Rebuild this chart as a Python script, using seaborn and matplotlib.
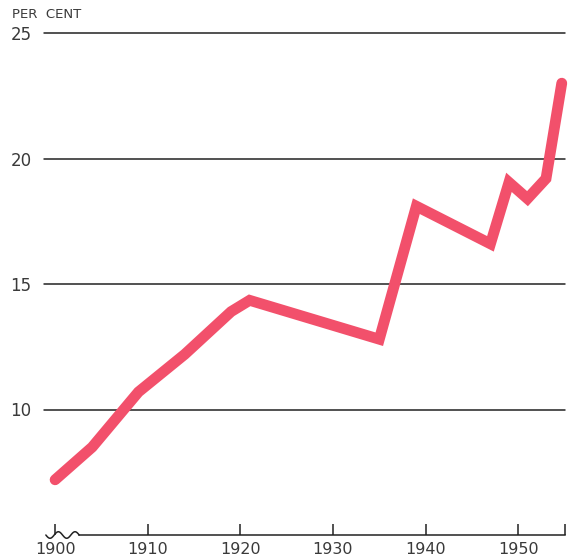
import seaborn as sns
import matplotlib.pyplot as plt
import numpy as np
import pandas as pd

years = [1900, 1904, 1909, 1914, 1919, 1921, 1935, 1939, 1947, 1949, 1951, 1953, 1954.7]
per_cent = [7.2, 8.5, 10.7, 12.2, 13.9, 14.35, 12.8, 18.1, 16.6, 19.05, 18.4, 19.2, 23.0]
x_ticks = [1900, 1910, 1920, 1930, 1940, 1950]
y_ticks = [10, 15, 20, 25]

df = pd.DataFrame({"year": years, "pct": per_cent})

sns.set_style("white")
plt.rcParams["font.family"] = ["DejaVu Sans"]
txt = "#3a3a3a"

fig = plt.figure(figsize=(5.69, 5.58), dpi=100)
ax = fig.add_axes([44 / 569, 1 - 535 / 558, (565 - 44) / 569, (535 - 33) / 558])
ax.set_xlim(1898.8, 1955.05)
ax.set_ylim(5, 25)

for y in y_ticks:
    ax.axhline(y, color="#222222", lw=1.1, zorder=1, clip_on=False)

sns.lineplot(data=df, x="year", y="pct", ax=ax, color="#f2506b", lw=7.8,
             solid_capstyle="round", solid_joinstyle="miter", zorder=3,
             clip_on=False)

for s in ["top", "right", "left"]:
    ax.spines[s].set_visible(False)
ax.spines["bottom"].set_bounds(1902.6, 1955.05)
ax.spines["bottom"].set_color("#222222")
ax.spines["bottom"].set_linewidth(1.1)

# squiggle axis break near 1900
wx = np.linspace(1899.0, 1902.6, 80)
wy = 5 + 0.13 * np.sin((wx - 1899.0) / 3.6 * 2 * np.pi * 2.0 + np.pi) 
ax.plot(wx, wy, color="#222222", lw=1.1, clip_on=False)

ax.set_xticks(x_ticks + [1955.0])
ax.set_xticklabels([str(x) for x in x_ticks] + [""])
ax.tick_params(axis="x", bottom=True, direction="in", length=8, width=1.1,
               color="#222222", pad=5, labelsize=11.5, labelcolor=txt)
ax.set_yticks(y_ticks)
ax.set_yticklabels([str(y) for y in y_ticks])
ax.tick_params(axis="y", length=0, pad=9, labelsize=12, labelcolor=txt)
ax.set_xlabel("")
ax.set_ylabel("")

fig.text(12 / 569, 1 - 15 / 558, "PER  CENT", fontsize=9.5, color=txt,
         ha="left", va="center")

fig.savefig("out.png", dpi=100)
